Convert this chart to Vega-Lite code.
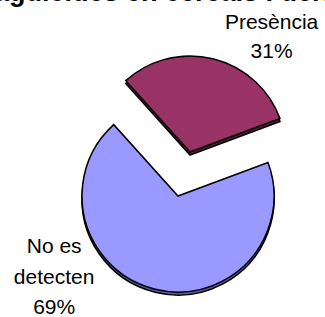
{
  "$schema": "https://vega.github.io/schema/vega-lite/v6.json",
  "width": 192,
  "height": 192,
  "autosize": "none",
  "padding": {"left": 82, "top": 100, "right": 51, "bottom": 25},
  "background": "white",
  "title": {
    "text": "Presència de plaguicides en cereals i derivats",
    "font": "Liberation Sans",
    "fontSize": 27,
    "fontWeight": "bold",
    "color": "black",
    "anchor": "start",
    "baseline": "alphabetic",
    "dx": -218,
    "offset": -16
  },
  "data": {
    "values": [
      {"cat": "Presència", "share": 0.31},
      {"cat": "No es\ndetecten", "share": 0.69}
    ]
  },
  "transform": [
    {"stack": "share", "groupby": [], "as": ["v0", "v1"], "sort": [{"field": "share", "order": "ascending"}]},
    {"calculate": "datum.cat + '\\n' + format(datum.share, '.0%')", "as": "txt"}
  ],
  "encoding": {
    "theta": {"field": "v0", "type": "quantitative", "scale": {"domain": [0, 1], "range": [-0.733, 5.550]}},
    "theta2": {"field": "v1"}
  },
  "layer": [
    {
      "transform": [{"filter": "datum.share > 0.5"}],
      "mark": {"type": "arc", "radius": 96, "fill": "#5a5aa0", "stroke": "black", "strokeWidth": 1.5, "yOffset": 3}
    },
    {
      "transform": [{"filter": "datum.share > 0.5"}],
      "mark": {"type": "arc", "radius": 96, "stroke": "black", "strokeWidth": 1.5},
      "encoding": {
        "color": {"field": "cat", "type": "nominal", "scale": {"domain": ["Presència", "No es\ndetecten"], "range": ["#993366", "#9999FF"]}, "legend": null}
      }
    },
    {
      "transform": [{"filter": "datum.share < 0.5"}],
      "mark": {"type": "arc", "radius": 96, "fill": "#5e1f40", "stroke": "black", "strokeWidth": 1.5, "xOffset": 12, "yOffset": -41}
    },
    {
      "transform": [{"filter": "datum.share < 0.5"}],
      "mark": {"type": "arc", "radius": 96, "stroke": "black", "strokeWidth": 1.5, "xOffset": 12, "yOffset": -44},
      "encoding": {
        "color": {"field": "cat", "type": "nominal", "scale": {"domain": ["Presència", "No es\ndetecten"], "range": ["#993366", "#9999FF"]}, "legend": null}
      }
    },
    {
      "transform": [{"filter": "datum.share < 0.5"}],
      "mark": {"type": "text", "radius": 196.6, "thetaOffset": 1.229, "font": "Liberation Sans", "fontSize": 21, "lineHeight": 29, "lineBreak": "\n", "align": "center", "baseline": "middle", "color": "black"},
      "encoding": {"theta2": null, "text": {"field": "txt"}}
    },
    {
      "transform": [{"filter": "datum.share > 0.5"}],
      "mark": {"type": "text", "radius": 134, "thetaOffset": 3.106, "font": "Liberation Sans", "fontSize": 21, "lineHeight": 30.5, "lineBreak": "\n", "align": "center", "baseline": "middle", "color": "black"},
      "encoding": {"theta2": null, "text": {"field": "txt"}}
    }
  ]
}
